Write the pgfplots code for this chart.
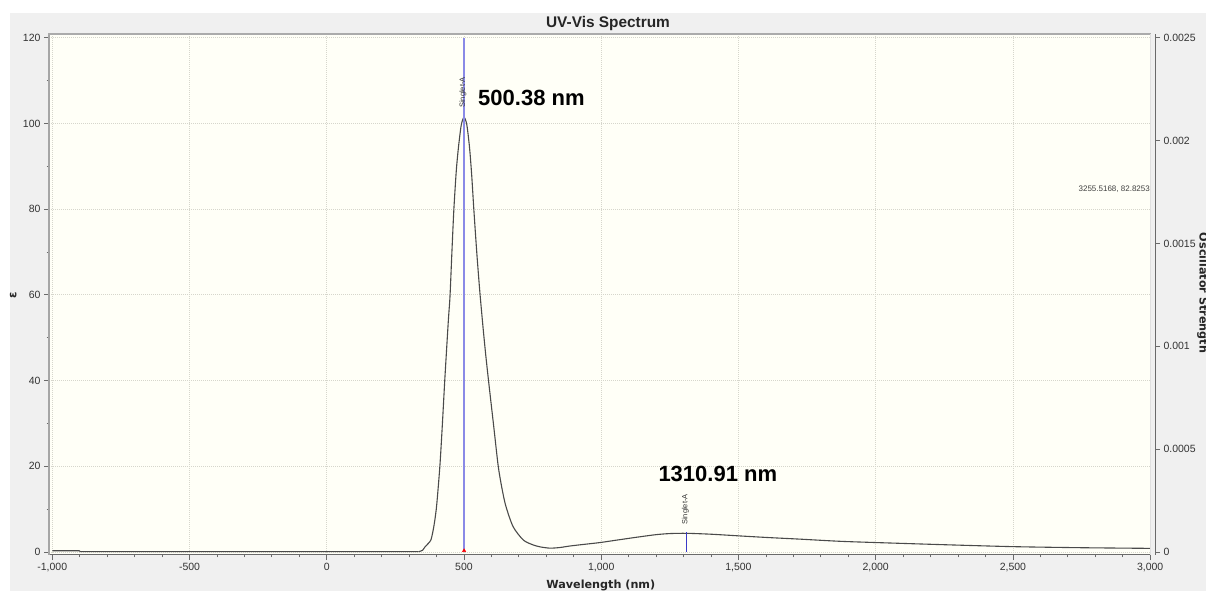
\documentclass[border=0pt]{standalone}
\usepackage{pgfplots}
\pgfplotsset{compat=1.18}
\usepackage{fontspec}
\setmainfont{Liberation Sans}
\newfontfamily\dejavu{DejaVu Sans}

\definecolor{outerbg}{HTML}{F0F0F0}
\definecolor{plotbg}{HTML}{FFFFF7}
\definecolor{gridc}{HTML}{D6D6CC}
\definecolor{curvec}{HTML}{4A4A4A}
\definecolor{stickA}{HTML}{8A8AE6}
\definecolor{stickB}{HTML}{3A3AC8}
\definecolor{axisc}{HTML}{6A6A6A}
\definecolor{labc}{HTML}{333333}

\begin{document}
\begin{tikzpicture}
\fill[white] (0,0) rectangle (1206pt,591pt);
\fill[outerbg] (10pt,0) rectangle (1206pt,578pt);

% main axis: epsilon
\begin{axis}[
    at={(49pt,36pt)}, anchor=south west,
    scale only axis, width=1101.7pt, height=521pt,
    xmin=-1012, xmax=3002, ymin=-0.7, ymax=120.86,
    axis x line*=bottom, axis y line*=left,
    x axis line style={axisc, line width=1pt, -},
    y axis line style={black!35, line width=2.5pt, -},
    axis background/.style={fill=plotbg},
    xtick={-1000,-500,...,3000}, minor x tick num=4,
    ytick={0,20,...,120}, minor y tick num=1,
    tick align=outside, major tick length=5pt, minor tick length=2.5pt,
    tick style={axisc, line width=0.8pt},
    grid=major, major grid style={gridc, line width=0.8pt, dash pattern=on 1pt off 1pt},
    /pgf/number format/1000 sep={,},
    /pgf/number format/assume math mode=true,
    ticklabel style={font=\fontsize{10.5}{12}\selectfont, text=labc},
    clip=true,
]
% flat baseline
\addplot[curvec, line width=1.1pt] coordinates {
    (-1000,0.3) (-902,0.3) (-898,0.08) (0,0.08) (335,0.08)
};
% absorption band
\addplot[curvec, line width=1.1pt, smooth, tension=0.45] coordinates {
    (335,0.08) (349,0.4)
    (358,1.2) (370,2.0) (380,2.9) (390,5.9) (400,10.6) (412,19.9)
    (421,29.5) (430,40.1) (443,54.0) (449,59.6) (456,70) (463,79.8)
    (472,89) (480,94.5) (490,99.6) (500,101.4)
    (510,99.8) (520,94.5) (528,88) (536,79.8)
    (547,69.5) (558,60.5) (570,52.0) (580,45.5) (592,38.5) (608,29.5)
    (625,19.9) (640,14.3) (653,10.6) (679,5.9) (716,2.8) (750,1.7)
    (777,1.2) (813,0.9) (850,1.05) (886,1.4) (940,1.8) (995,2.2)
    (1070,2.9) (1141,3.55) (1200,4.05) (1250,4.3) (1311,4.36) (1400,4.15)
    (1505,3.75) (1600,3.4) (1724,3.0) (1869,2.5) (2003,2.2) (2250,1.7)
    (2500,1.25) (2750,1.0) (3000,0.85)
};
% oscillator strength sticks (f scaled onto the epsilon axis: 0.0025 -> 120)
\addplot[stickA, line width=1.2pt, ycomb, y filter/.expression={y*48000}]
    coordinates {(500.38,0.0025)};
\addplot[stickB, line width=1.2pt, ycomb, y filter/.expression={y*48000}]
    coordinates {(1310.91,0.0000973)};
\addplot[only marks, red, mark=triangle*, mark size=2pt] coordinates {(500.38,0.3)};

\node[rotate=90, anchor=west, inner sep=0, font=\fontsize{7.5}{8}\selectfont, text=black!80]
    at (axis cs:496,103.6) {Singlet-A};
\node[rotate=90, anchor=west, inner sep=0, font=\fontsize{7.5}{8}\selectfont, text=black!80]
    at (axis cs:1307,6.3) {Singlet-A};
\end{axis}

% right axis: oscillator strength
\begin{axis}[
    at={(49pt,36pt)}, anchor=south west,
    scale only axis, width=1106pt, height=521pt,
    xmin=0, xmax=1, ymin=-0.7, ymax=120.86,
    axis x line=none, axis y line*=right,
    y axis line style={axisc, line width=1pt, -},
    ytick={0,24,...,120},
    yticklabels={0,0.0005,0.001,0.0015,0.002,0.0025},
    tick align=outside, major tick length=5pt,
    tick style={axisc, line width=0.8pt},
    ticklabel style={font=\fontsize{10.5}{12}\selectfont, text=labc},
]
\end{axis}

% plot frame top
\draw[black!33, line width=2pt] (48pt,557pt) -- (1151pt,557pt);
\draw[black!12, line width=0.6pt] (1150.7pt,36pt) -- (1150.7pt,557pt);

% titles and labels
\node[anchor=base, inner sep=0, font=\fontsize{15.4}{17}\selectfont\bfseries, text=black!85]
    at (608pt,563.7pt) {UV-Vis Spectrum};
\node[anchor=base, inner sep=0, font=\dejavu\fontsize{11.2}{13}\selectfont\bfseries, text=black!85]
    at (600.8pt,2pt) {Wavelength (nm)};
\node[rotate=90, anchor=center, inner sep=0, font=\dejavu\fontsize{11.5}{13}\selectfont\bfseries, text=black!85]
    at (13.3pt,296pt) {ε};
\node[rotate=-90, anchor=base, inner sep=0, font=\dejavu\fontsize{11.2}{13}\selectfont\bfseries, text=black!85]
    at (1199.5pt,298pt) {Oscillator Strength};

% peak annotations
\node[anchor=west, inner sep=0, font=\fontsize{22}{24}\selectfont\bfseries]
    at (478pt,493.5pt) {500.38 nm};
\node[anchor=west, inner sep=0, font=\fontsize{22}{24}\selectfont\bfseries]
    at (658.3pt,117.2pt) {1310.91 nm};
\node[anchor=east, inner sep=0, font=\fontsize{8}{9}\selectfont, text=black!75]
    at (1150pt,402pt) {3255.5168, 82.8253};

\pgfresetboundingbox
\useasboundingbox (0,0) rectangle (1206pt,591pt);
\end{tikzpicture}
\end{document}
